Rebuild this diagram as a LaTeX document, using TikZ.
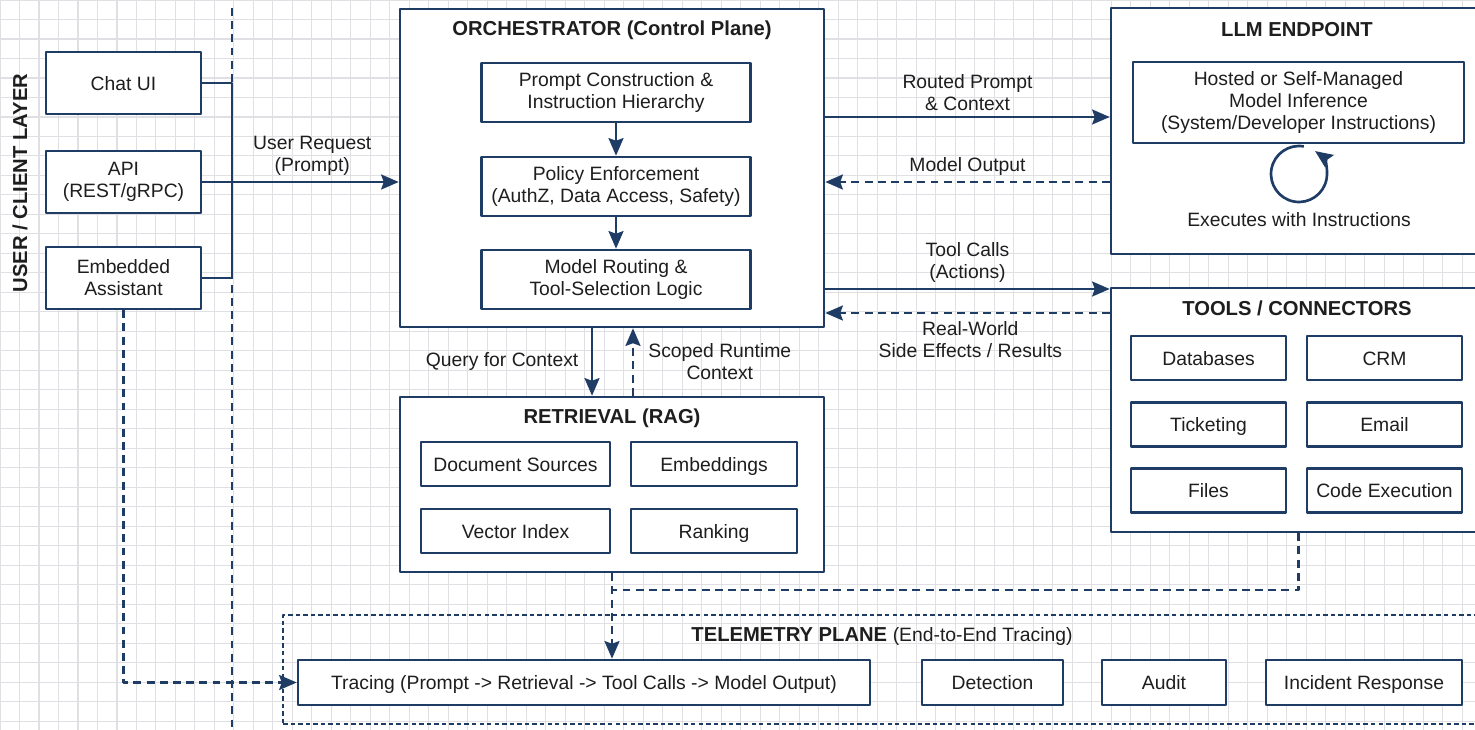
\documentclass[tikz,border=0pt]{standalone}
\usepackage{fontspec}
\setmainfont{Liberation Sans}
\usetikzlibrary{arrows.meta,calc}
\definecolor{navy}{RGB}{30,60,100}
\definecolor{ink}{RGB}{30,30,30}
\definecolor{gridc}{RGB}{224,224,228}
\newcommand{\bodyfont}{\fontsize{11}{12.5}\selectfont}
\newcommand{\headfont}{\fontsize{11.5}{13}\selectfont\bfseries}

\tikzset{
	box/.style={draw=navy,line width=1.5pt,fill=white,align=center,text=ink,font=\bodyfont,inner sep=1pt},
	one/.style={box,text height=8pt,text depth=0pt},
	panel/.style={draw=navy,line width=1.5pt,fill=white},
	head/.style={text=ink,font=\headfont},
	lbl/.style={text=ink,font=\bodyfont,align=center,inner sep=2pt},
	flow/.style={draw=navy,line width=1.5pt},
	dflow/.style={flow,dash pattern=on 4.5pt off 3pt},
}

\begin{document}
\begin{tikzpicture}[x=0.02cm,y=-0.02cm,>={Stealth[length=10pt,width=8.5pt,inset=1.5pt]},line join=round]
	\clip (0,0) rectangle (1475,730);
	\fill[white] (0,0) rectangle (1475,730);
	\draw[gridc,line width=0.6pt,step=0.39cm] (0,0) grid (1475,730);

	% client layer
	\coordinate (sepT) at (232,8);
	\coordinate (sepB) at (232,730);
	\draw[dflow] (sepT) -- (sepB);
	\node[head,rotate=90] (layer) at (20,183) {USER / CLIENT LAYER};
	\node[one,minimum width=3.1cm,minimum height=1.24cm] (chat) at (123.5,83) {Chat UI};
	\node[box,minimum width=3.1cm,minimum height=1.24cm] (api) at (123.5,182) {API\\(REST/gRPC)};
	\node[box,minimum width=3.1cm,minimum height=1.24cm] (emb) at (123.5,278) {Embedded\\Assistant};

	% orchestrator
	\node[panel,minimum width=8.48cm,minimum height=6.36cm] (orch) at (612,168) {};
	\node[head] (orchtitle) at (612,30) {ORCHESTRATOR (Control Plane)};
	\node[box,minimum width=5.38cm,minimum height=1.18cm] (prompt) at (616,92.5) {Prompt Construction \&\\Instruction Hierarchy};
	\node[box,minimum width=5.38cm,minimum height=1.18cm] (policy) at (616,186.5) {Policy Enforcement\\(AuthZ, Data Access, Safety)};
	\node[box,minimum width=5.38cm,minimum height=1.18cm] (routing) at (616,279.5) {Model Routing \&\\Tool-Selection Logic};
	\draw[flow,->] (prompt) -- (policy);
	\draw[flow,->] (policy) -- (routing);

	% llm endpoint
	\node[panel,minimum width=7.38cm,minimum height=4.92cm] (llm) at (1295.5,131) {};
	\node[head] (llmtitle) at (1297,30) {LLM ENDPOINT};
	\node[box,minimum width=6.62cm,minimum height=1.62cm] (infer) at (1298.5,102.5) {Hosted or Self-Managed\\Model Inference\\(System/Developer Instructions)};
	\coordinate (loopc) at (1299,174);
	\begin{scope}[shift={(loopc)},x=1cm,y=1cm]
		\draw[flow,->] (80:0.56) arc[start angle=80,end angle=415,radius=0.56];
	\end{scope}
	\node[lbl] (exec) at (1299,220) {Executes with Instructions};

	% tools
	\node[panel,minimum width=7.38cm,minimum height=4.88cm] (tools) at (1295.5,410) {};
	\node[head] (toolstitle) at (1297,308) {TOOLS / CONNECTORS};
	\node[one,minimum width=3.1cm,minimum height=0.88cm] (db) at (1208.5,358) {Databases};
	\node[one,minimum width=3.1cm,minimum height=0.88cm] (crm) at (1384.5,358) {CRM};
	\node[one,minimum width=3.1cm,minimum height=0.88cm] (ticket) at (1208.5,424.5) {Ticketing};
	\node[one,minimum width=3.1cm,minimum height=0.88cm] (email) at (1384.5,424.5) {Email};
	\node[one,minimum width=3.1cm,minimum height=0.88cm] (files) at (1208.5,490.5) {Files};
	\node[one,minimum width=3.1cm,minimum height=0.88cm] (code) at (1384.5,490.5) {Code Execution};

	% retrieval
	\node[panel,minimum width=8.48cm,minimum height=3.5cm] (retr) at (612,484.5) {};
	\node[head] (retrtitle) at (612,418) {RETRIEVAL (RAG)};
	\node[one,minimum width=3.78cm,minimum height=0.88cm] (docs) at (515.5,464) {Document Sources};
	\node[one,minimum width=3.32cm,minimum height=0.88cm] (embed) at (714,464) {Embeddings};
	\node[one,minimum width=3.78cm,minimum height=0.88cm] (vec) at (515.5,531) {Vector Index};
	\node[one,minimum width=3.32cm,minimum height=0.88cm] (rank) at (714,531) {Ranking};

	% telemetry
	\node[draw=navy,line width=1.5pt,dash pattern=on 2.5pt off 1.8pt,minimum width=23.94cm,minimum height=2.18cm] (tele) at (881.5,669.5) {};
	\node[head] (teletitle) at (882,636) {TELEMETRY PLANE {\mdseries\bodyfont(End-to-End Tracing)}};
	\node[one,minimum width=11.44cm,minimum height=0.9cm] (trace) at (584,682.5) {Tracing (Prompt -> Retrieval -> Tool Calls -> Model Output)};
	\node[one,minimum width=2.82cm,minimum height=0.9cm] (detect) at (992.5,682.5) {Detection};
	\node[one,minimum width=2.48cm,minimum height=0.9cm] (audit) at (1164,682.5) {Audit};
	\node[one,minimum width=3.92cm,minimum height=0.9cm] (incident) at (1364,682.5) {Incident Response};

	% connectors
	\draw[flow] (chat.east) -- (chat.east -| sepT) -- (emb.east -| sepT) -- (emb.east);
	\draw[flow,->] (api.east) -- (api.east -| orch.west) node[lbl,pos=0.56,above=1pt] (reqlbl) {User Request\\(Prompt)};
	\draw[flow,->] (orch.east |- 0,117) -- (llm.west |- 0,117) node[lbl,midway,above=1pt] (routedlbl) {Routed Prompt\\\& Context};
	\draw[dflow,->] (llm.west |- 0,182) -- (orch.east |- 0,182) node[lbl,midway,above=1pt] (outlbl) {Model Output};
	\draw[flow,->] (orch.east |- 0,289) -- (tools.west |- 0,289) node[lbl,midway,above=1pt] (calllbl) {Tool Calls\\(Actions)};
	\draw[dflow,->] (tools.west |- 0,313) -- (orch.east |- 0,313) node[lbl,pos=0.49,below=2pt] (effectlbl) {Real-World\\Side Effects / Results};
	\draw[flow,->] ([xshift=-0.4cm]orch.south) -- ([xshift=-0.4cm]retr.north) node[lbl,midway,left=5pt] (querylbl) {Query for Context};
	\draw[dflow,->] ([xshift=0.42cm]retr.north) -- ([xshift=0.42cm]orch.south) node[lbl,midway,right=6pt] (scopelbl) {Scoped Runtime\\Context};
	\coordinate (join) at (612,590);
	\draw[dflow] (tools.south -| infer.south) |- (join);
	\draw[dflow,->] (retr.south) -- (trace.north -| retr.south);
	\draw[dflow,->] (emb.south) |- (trace.west);
\end{tikzpicture}
\end{document}
